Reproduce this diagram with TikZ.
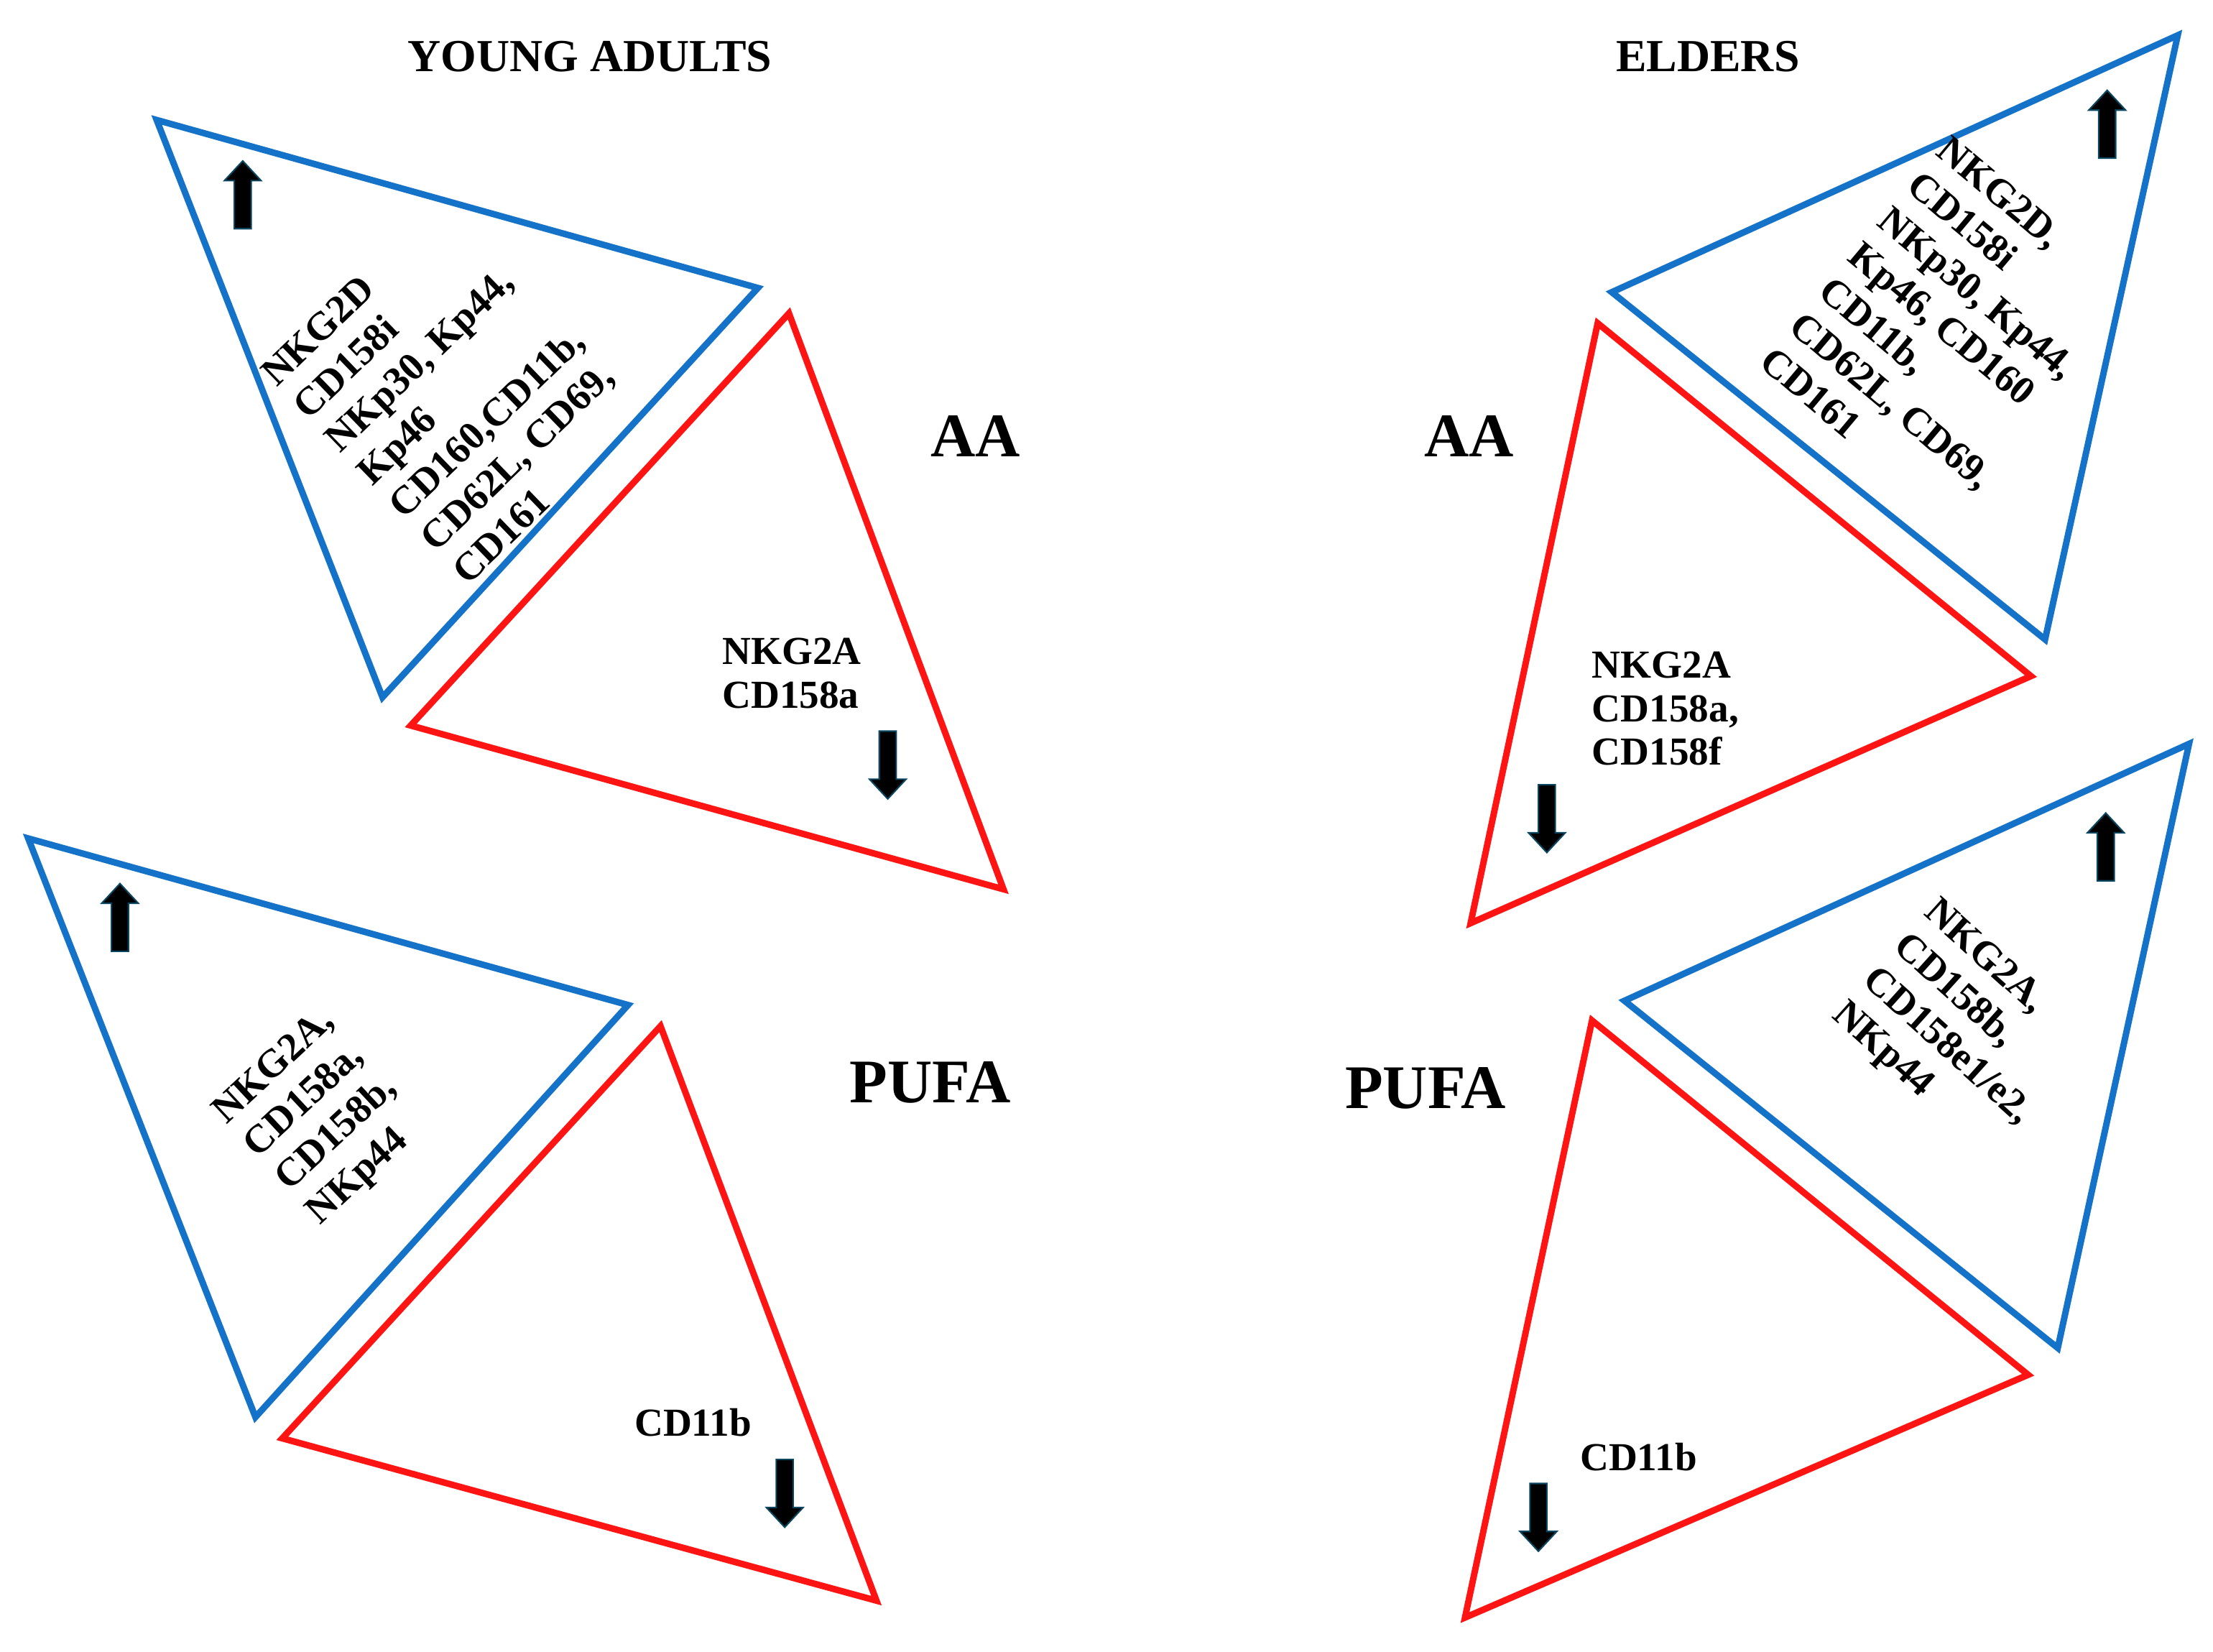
\documentclass[tikz,border=0pt]{standalone}
\usepackage{fontspec}
\setmainfont{Liberation Serif}
\definecolor{tblue}{RGB}{20,115,200}
\definecolor{tred}{RGB}{255,20,20}
\definecolor{arr}{RGB}{10,70,95}
\begin{document}
\begin{tikzpicture}[x=0.02cm,y=-0.02cm,
  bt/.style={draw=tblue,line width=2.6pt,line join=miter},
  rt/.style={draw=tred,line width=2.6pt,line join=miter},
  lab/.style={font=\fontsize{16}{17.5}\selectfont\bfseries,align=left,inner sep=0pt},
  rlab/.style={font=\fontsize{16}{18.5}\selectfont\bfseries,align=left,inner sep=0pt},
  head/.style={font=\fontsize{18.5}{20}\selectfont\bfseries,inner sep=0pt},
  big/.style={font=\fontsize{25}{27}\selectfont\bfseries,inner sep=0pt},
  pics/uparr/.style={code={\filldraw[fill=black,draw=arr,line width=0.6pt]
     (0,-24) -- (13,-10) -- (6,-10) -- (6,24) -- (-6,24) -- (-6,-10) -- (-13,-10) -- cycle;}},
  pics/dnarr/.style={code={\filldraw[fill=black,draw=arr,line width=0.6pt]
     (0,24) -- (13,10) -- (6,10) -- (6,-24) -- (-6,-24) -- (-6,10) -- (-13,10) -- cycle;}}]
\useasboundingbox (0,0) rectangle (1568,1170);
% triangles
\draw[bt] (111,85) coordinate(a1) -- (537,204) coordinate(a2) -- (271,494) coordinate(a3) -- cycle;
\draw[rt] (559,222) coordinate(b1) -- (291,514) coordinate(b2) -- (711,630) coordinate(b3) -- cycle;
\draw[bt] (20,594) coordinate(c1) -- (445,712) coordinate(c2) -- (181,1004) coordinate(c3) -- cycle;
\draw[rt] (468,727) coordinate(d1) -- (200,1019) coordinate(d2) -- (621,1134) coordinate(d3) -- cycle;
\draw[bt] (1543,25) coordinate(e1) -- (1142,207) coordinate(e2) -- (1449,453) coordinate(e3) -- cycle;
\draw[rt] (1132,229) coordinate(f1) -- (1439,479) coordinate(f2) -- (1042,654) coordinate(f3) -- cycle;
\draw[bt] (1551,527) coordinate(g1) -- (1151,709) coordinate(g2) -- (1458,955) coordinate(g3) -- cycle;
\draw[rt] (1128,723) coordinate(h1) -- (1437,974) coordinate(h2) -- (1038,1146) coordinate(h3) -- cycle;
% headings
\node[head] (ya) at (418,40) {YOUNG ADULTS};
\node[head] (el) at (1210,40) {ELDERS};
\node[big] (aa1) at (691,309) {AA};
\node[big] (aa2) at (1041,309) {AA};
\node[big] (pu1) at (659,767) {PUFA};
\node[big] (pu2) at (1010,771) {PUFA};
% rotated labels
\node[rlab,rotate=44] (t1) at (322,276) {NKG2D\\CD158i\\NKp30, Kp44,\\Kp46\\CD160,CD11b,\\CD62L, CD69,\\CD161};
\node[rlab,rotate=-40] (t2) at (1382,234) {NKG2D,\\CD158i\\NKp30, Kp44,\\Kp46, CD160\\CD11b,\\CD62L, CD69,\\CD161};
\node[rlab,rotate=43] (t3) at (228,792) {NKG2A,\\CD158a,\\CD158b,\\NKp44};
\node[rlab,rotate=-42] (t4) at (1390,730) {NKG2A,\\CD158b,\\CD158e1/e2,\\NKp44};
% horizontal labels
\node[lab] (t5) at (561,477) {NKG2A\\CD158a};
\node[lab] (t6) at (1180,502) {NKG2A\\CD158a,\\CD158f};
\node[lab] (t7) at (491,1008) {CD11b};
\node[lab] (t8) at (1161,1032) {CD11b};
% arrows
\pic at (172,138) {uparr};
\pic at (85,650) {uparr};
\pic at (1493,88) {uparr};
\pic at (1492,600) {uparr};
\pic at (629,542) {dnarr};
\pic at (1096,580) {dnarr};
\pic at (556,1058) {dnarr};
\pic at (1090,1075) {dnarr};
\end{tikzpicture}
\end{document}
